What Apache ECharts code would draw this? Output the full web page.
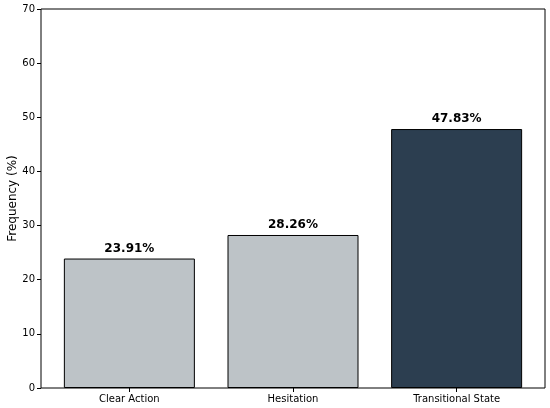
<!DOCTYPE html>
<html>
<head>
<meta charset="utf-8">
<script src="https://cdn.jsdelivr.net/npm/echarts@6/dist/echarts.min.js"></script>
<style>html,body{margin:0;padding:0;background:#fff}#c{width:550px;height:408px}</style>
</head>
<body>
<div id="c"></div>
<script>
const categories = ["Clear Action", "Hesitation", "Transitional State"];
const frequencies = [23.91, 28.26, 47.83];
const barColors = ["#bdc3c7", "#bdc3c7", "#2c3e50"];
const yTicks = [0, 10, 20, 30, 40, 50, 60, 70];

const chart = echarts.init(document.getElementById('c'), null, {renderer: 'canvas'});
const font = 'DejaVu Sans';
chart.setOption({
  animation: false,
  grid: {left: 41, top: 9, right: 5, bottom: 20, containLabel: false, outerBoundsMode: 'none',
    show: true, borderColor: '#000', borderWidth: 1, backgroundColor: 'transparent'},
  xAxis: {
    type: 'value', min: -0.54, max: 2.54,
    splitLine: {show: false},
    axisLine: {show: false, onZero: false},
    axisTick: {show: true, length: 4, inside: false, customValues: [0, 1, 2], lineStyle: {color: '#000'}},
    axisLabel: {customValues: [0, 1, 2], formatter: v => categories[Math.round(v)] || '', color: '#000', fontFamily: font, fontSize: 10, margin: 6}
  },
  yAxis: {
    type: 'value', min: 0, max: 70, interval: 10,
    name: 'Frequency (%)', nameLocation: 'middle', nameGap: 22, nameMoveOverlap: false,
    nameTextStyle: {fontFamily: font, fontSize: 12, color: '#000'},
    splitLine: {show: false},
    axisLine: {show: false, onZero: false},
    axisTick: {show: true, length: 4, lineStyle: {color: '#000'}},
    axisLabel: {color: '#000', fontFamily: font, fontSize: 10, margin: 6}
  },
  series: [{
    type: 'bar',
    barWidth: 131,
    data: frequencies.map((v, i) => ({value: [i, v], itemStyle: {color: barColors[i]}})),
    itemStyle: {borderColor: '#000', borderWidth: 1},
    label: {show: true, position: 'top', distance: 4, formatter: p => p.value[1].toFixed(2) + '%',
      fontFamily: font, fontSize: 12, fontWeight: 'bold', color: '#000'}
  }]
});
</script>
</body>
</html>
